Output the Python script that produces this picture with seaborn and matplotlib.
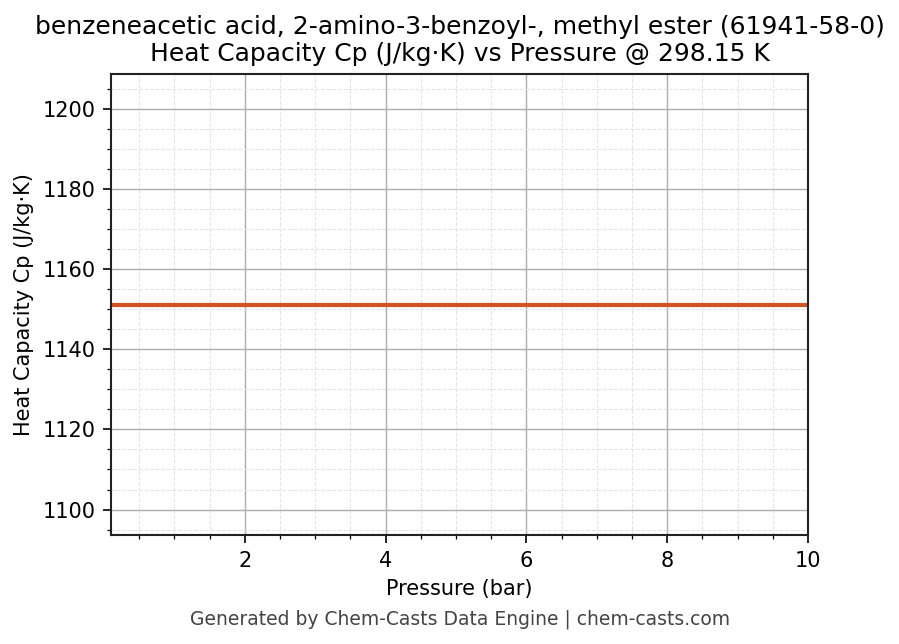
import matplotlib
matplotlib.use('Agg')
import pandas as pd
import matplotlib.pyplot as plt
import seaborn as sns
from matplotlib.ticker import MultipleLocator

# Data: Cp is flat across the pressure range
pressure_bar = [0.1, 1.0, 2.0, 3.0, 4.0, 5.0, 6.0, 7.0, 8.0, 9.0, 10.0]
cp_values = [1151.2] * len(pressure_bar)

df = pd.DataFrame({'Pressure (bar)': pressure_bar, 'Cp': cp_values})

sns.set_style('ticks')
plt.rcParams['font.family'] = ['DejaVu Sans']
plt.rcParams['text.color'] = 'black'
plt.rcParams['axes.labelcolor'] = 'black'
plt.rcParams['xtick.color'] = 'black'
plt.rcParams['ytick.color'] = 'black'

fig = plt.figure(figsize=(899 / 150, 644 / 150), dpi=150)
ax = fig.add_axes([111 / 899, 1 - 535 / 644, (808 - 111) / 899, (535 - 74) / 644])

sns.lineplot(data=df, x='Pressure (bar)', y='Cp', ax=ax, color='#d4521f', linewidth=2)

ax.set_xlim(0.1, 10)
ax.set_ylim(1151.2 * 0.95, 1151.2 * 1.05)
ax.xaxis.set_major_locator(MultipleLocator(2))
ax.xaxis.set_minor_locator(MultipleLocator(0.5))
ax.yaxis.set_major_locator(MultipleLocator(20))
ax.yaxis.set_minor_locator(MultipleLocator(5))

ax.grid(which='major', color='#b0b0b0', linewidth=0.7)
ax.grid(which='minor', color='#e4e4e4', linewidth=0.5, linestyle='--')
for s in ax.spines.values():
    s.set_color('#222222')
    s.set_linewidth(1.0)
ax.tick_params(which='major', length=4, width=0.8, labelsize=10)
ax.tick_params(which='minor', length=2, width=0.6)

ax.set_xlabel('Pressure (bar)', fontsize=10)
ax.set_ylabel('Heat Capacity Cp (J/kg·K)', fontsize=10)
ax.set_title('benzeneacetic acid, 2-amino-3-benzoyl-, methyl ester (61941-58-0)\n'
             'Heat Capacity Cp (J/kg·K) vs Pressure @ 298.15 K', fontsize=12)

fig.text(0.512, 1 - 619 / 644, 'Generated by Chem-Casts Data Engine | chem-casts.com',
         ha='center', va='center', fontsize=9, color='#444444')

fig.savefig('out.png', dpi=150)
